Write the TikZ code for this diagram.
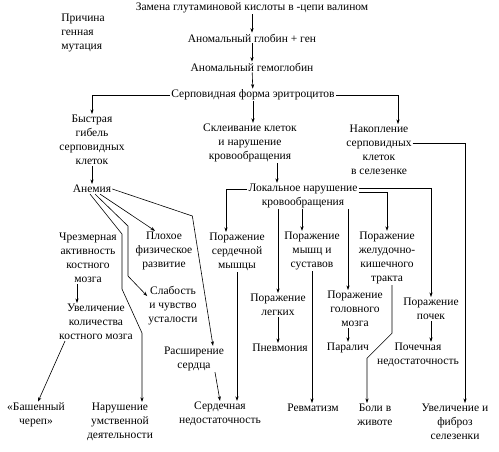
\documentclass[tikz,border=0pt]{standalone}
\usepackage{fontspec}
\setmainfont{Liberation Serif}
\usetikzlibrary{calc, arrows.meta}

\begin{document}
\begin{tikzpicture}[x=1pt, y=-1pt,
    txt/.style={align=center, inner sep=1pt, font=\fontsize{11.5}{14}\selectfont},
    arr/.style={->, line width=0.6pt},
    lin/.style={line width=0.6pt},
    >={Stealth[length=4.5pt,width=3.2pt]}]
    % Frame
    \useasboundingbox (0,0) rectangle (499,451);

    % Main chain
    \node[txt] (zamena) at (252,8) {Замена глутаминовой кислоты в -цепи валином};
    \node[txt, align=left] (prichina) at (83,33) {Причина\\генная\\мутация};
    \node[txt] (globin) at (252,38) {Аномальный глобин + ген};
    \node[txt] (gemoglobin) at (252,67) {Аномальный гемоглобин};
    \node[txt] (serp) at (253,95) {Серповидная форма эритроцитов};

    % Second level
    \node[txt] (bystr) at (92,140) {Быстрая\\гибель\\серповидных\\клеток};
    \node[txt] (skleiv) at (250,143) {Склеивание клеток\\и нарушение\\кровообращения};
    \node[txt] (nakop) at (379,150) {Накопление\\серповидных\\клеток\\в селезенке};
    \node[txt] (anemia) at (92,189) {Анемия};
    \node[txt] (lokal) at (303,196) {Локальное нарушение\\кровообращения};

    % Third level
    \node[txt] (chrez) at (88,258) {Чрезмерная\\активность\\костного\\мозга};
    \node[txt] (plokh) at (164,251) {Плохое\\физическое\\развитие};
    \node[txt] (pserd) at (237,252) {Поражение\\сердечной\\мышцы};
    \node[txt] (pmysh) at (312,251) {Поражение\\мышц и\\суставов};
    \node[txt] (pzhel) at (387,258) {Поражение\\желудочно-\\кишечного\\тракта};

    % Fourth level
    \node[txt] (uvel) at (96,322) {Увеличение\\количества\\костного мозга};
    \node[txt] (slab) at (173,306) {Слабость\\и чувство\\усталости};
    \node[txt] (pleg) at (278,305) {Поражение\\легких};
    \node[txt] (pgol) at (355,309) {Поражение\\головного\\мозга};
    \node[txt] (ppoch) at (431,309) {Поражение\\почек};
    \node[txt] (rassh) at (194,359) {Расширение\\сердца};
    \node[txt] (pnevm) at (280,348) {Пневмония};
    \node[txt] (paral) at (348,348) {Паралич};
    \node[txt] (pochn) at (418,355) {Почечная\\недостаточность};

    % Outcomes
    \node[txt] (bash) at (36,415) {«Башенный\\череп»};
    \node[txt] (narush) at (120,422) {Нарушение\\умственной\\деятельности};
    \node[txt] (serdn) at (220,414) {Сердечная\\недостаточность};
    \node[txt] (revm) at (313,408) {Ревматизм};
    \node[txt] (boli) at (375,415) {Боли в\\животе};
    \node[txt] (uvfib) at (455,422) {Увеличение и\\фиброз\\селезенки};

    % Helper points
    \coordinate (sklOut) at ([xshift=27pt]skleiv.south);
    \coordinate (chrezOut) at ([xshift=-11pt]chrez.south);

    % Main chain arrows
    \draw[arr] (zamena) -- (globin);
    \draw[arr] (globin) -- (gemoglobin);
    \draw[arr] (gemoglobin) -- (serp);
    \draw[arr] (serp.south) -- (serp.south |- skleiv.north);
    \draw[arr] (serp.west) -| (bystr.north);
    \draw[arr] (serp.east) -| ([xshift=19pt]nakop.north);

    % Second level arrows
    \draw[arr] (bystr) -- (anemia);
    \draw[arr] (sklOut) -- (sklOut |- lokal.north);
    \draw[arr] ([yshift=7pt]nakop.east) -| ([xshift=10pt]uvfib.north);

    % From anemia
    \draw[arr] (anemia.east) -- ++(80,27) -- ($(rassh.north)+(19,0)$);
    \draw[arr] ([xshift=8pt]anemia.south) -- ([xshift=-9pt]plokh.north);
    \draw[arr] ([xshift=3pt]anemia.south) -- ++(33,32) -- ++(0,50) -- ([yshift=10pt]slab.west);
    \draw[arr] ([xshift=-2pt]anemia.south) -- ++(32,40) -- ++(0,55) -- ++(20,44) -- ($(narush.north)+(22,0)$);

    % From local disturbance
    \draw[arr] ([yshift=7pt]lokal.west) -| ([xshift=-11pt]pserd.north);
    \draw[arr] (lokal.south -| pleg.north) -- (pleg.north);
    \draw[arr] (lokal.south -| pmysh.north) ++(-10,0) -- ([xshift=-10pt]pmysh.north);
    \draw[arr] (lokal.south -| paral.north) -- ($(pgol.north)+(-7,0)$);
    \draw[arr] ([yshift=4pt]lokal.east) -| (pzhel.north);
    \draw[arr] ([yshift=8pt]lokal.east) -| (ppoch.north);

    % Lower arrows
    \draw[arr] (chrezOut) -- (chrezOut |- uvel.north);
    \draw[arr] ([xshift=-31pt]uvel.south) -- ([xshift=2pt]bash.north);
    \draw[arr] ([xshift=21pt]rassh.south) -- (serdn.north);
    \draw[arr] (pserd.south) -- (pserd.south |- serdn.north);
    \draw[arr] (pmysh.south) -- (pmysh.south |- revm.north);
    \draw[arr] ([xshift=5pt]pzhel.south) -- ++(0,48) -- ++(-25,25) -- ($(boli.north)+(-8,0)$);
    \draw[arr] (pleg.south) -- (pleg.south |- pnevm.north);
    \draw[arr] (paral.north |- pgol.south) -- (paral.north);
    \draw[arr] (ppoch.south) -- (ppoch.south |- pochn.north);

\end{tikzpicture}
\end{document}
